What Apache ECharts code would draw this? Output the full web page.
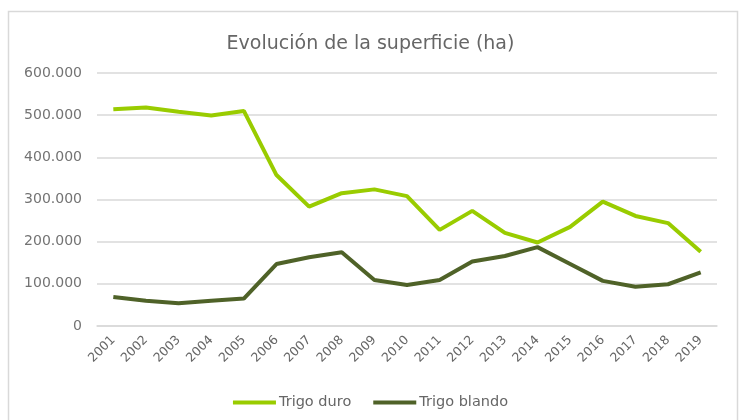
<!DOCTYPE html>
<html>
<head>
<meta charset="utf-8">
<script src="https://cdn.jsdelivr.net/npm/echarts@6/dist/echarts.min.js"></script>
<style>
  html, body {margin: 0; padding: 0; background: #fff;}
  #chart {width: 741px; height: 420px;}
</style>
</head>
<body>
<div id="chart"></div>
<script>
// años
const years = ['2001', '2002', '2003', '2004', '2005', '2006', '2007', '2008', '2009', '2010',
  '2011', '2012', '2013', '2014', '2015', '2016', '2017', '2018', '2019']

// superficie (ha)
const trigoDuro = [514000, 518000, 508000, 499000, 510000, 358000, 283000, 315000, 324000, 308000,
  228000, 273000, 221000, 198000, 235000, 295000, 261000, 244000, 176000]
const trigoBlando = [69000, 60000, 54000, 60000, 65000, 147000, 163000, 175000, 109000, 97000,
  109000, 153000, 166000, 187000, 147000, 107000, 93000, 99000, 127000]

const names = ['Trigo duro', 'Trigo blando']
const colors = ['#99cc00', '#4f6228']

const font = '"DejaVu Sans", sans-serif'

const chart = echarts.init(document.getElementById('chart'))

// separador de miles con punto
function fmt(v) {
  return String(v).replace(/\B(?=(\d{3})+(?!\d))/g, '.')
}

const option = {
  animation: false,
  textStyle: {fontFamily: font},
  graphic: [
    {
      type: 'rect',
      shape: {x: 8.5, y: 11.5, width: 729, height: 420},
      style: {fill: 'none', stroke: '#d9d9d9', lineWidth: 1.5},
      silent: true,
    },
  ],
  title: {
    text: 'Evolución de la superficie (ha)',
    left: 'center',
    top: 30,
    textStyle: {fontFamily: font, fontSize: 19, fontWeight: 'normal', color: '#666666'},
  },
  legend: {
    bottom: 5,
    left: 'center',
    icon: 'rect',
    itemWidth: 43,
    itemHeight: 4,
    itemGap: 22,
    itemStyle: {borderWidth: 0},
    textStyle: {fontFamily: font, fontSize: 14.5, color: '#666666', padding: [0, 0, 0, -2]},
    data: names,
  },
  grid: {left: 97, right: 24, top: 73, bottom: 94},
  xAxis: {
    type: 'category',
    data: years,
    boundaryGap: true,
    axisLine: {lineStyle: {color: '#d9d9d9', width: 1.5}},
    axisTick: {show: false},
    axisLabel: {
      interval: 0,
      rotate: 45,
      margin: 12,
      fontFamily: font,
      fontSize: 12.5,
      color: '#666666',
    },
  },
  yAxis: {
    type: 'value',
    min: 0,
    max: 600000,
    interval: 100000,
    axisLine: {show: false},
    axisTick: {show: false},
    splitLine: {lineStyle: {color: '#d9d9d9', width: 1.5}},
    axisLabel: {
      formatter: fmt,
      margin: 15,
      fontFamily: font,
      fontSize: 14,
      color: '#737373',
    },
  },
  series: [
    {
      name: names[0],
      type: 'line',
      data: trigoDuro,
      color: colors[0],
      symbol: 'none',
      lineStyle: {width: 4, color: colors[0]},
    },
    {
      name: names[1],
      type: 'line',
      data: trigoBlando,
      color: colors[1],
      symbol: 'none',
      lineStyle: {width: 4, color: colors[1]},
    },
  ],
}

chart.setOption(option)
</script>
</body>
</html>
